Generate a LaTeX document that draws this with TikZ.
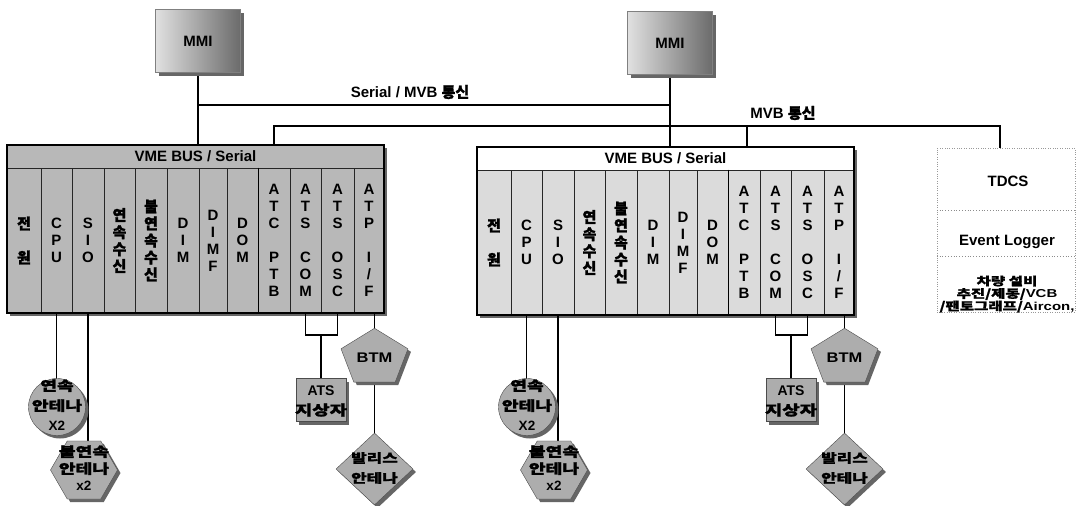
\documentclass[tikz,border=0pt]{standalone}
\usepackage{fontspec}
\setmainfont{Liberation Sans}
\newfontfamily\krfont{Noto Sans CJK KR}[FakeBold=1.5]
\newfontfamily\krwide{Noto Sans CJK KR}[FakeStretch=1.35,FakeBold=1.5]
\newfontfamily\latw{Liberation Sans}[FakeStretch=1.3]
\newcommand{\KR}[1]{{\krfont #1}}
\newcommand{\KW}[1]{{\krwide #1}}
\newcommand{\fsz}[2]{\fontsize{#1}{#2}\selectfont}
\usetikzlibrary{shapes.geometric,shadows}
\tikzset{
  conn/.style={line width=1.8pt, draw=black},
  shd/.style={drop shadow={shadow xshift=3pt, shadow yshift=-3pt, fill=black!60, opacity=1}},
  mmibox/.style={shd, draw=black!50, left color=black!12, right color=black!58, minimum width=85pt, minimum height=63pt, inner sep=0pt, font=\bfseries\fsz{15}{17}},
  rackfill/.style={shd, draw=black, line width=2pt, inner sep=0pt, minimum width=377pt, minimum height=168pt},
  rackframe/.style={draw=black, line width=2pt, inner sep=0pt, minimum width=377pt, minimum height=168pt},
  headbox/.style={inner sep=0pt, minimum width=375pt, minimum height=23pt, font=\bfseries\fsz{15}{17}},
  module/.style={draw=black!85, line width=0.8pt, inner sep=0pt, minimum height=145pt, align=center, font=\bfseries\fsz{15}{17}},
  gshape/.style={shd, draw=black!70, fill=black!32, inner sep=0pt},
  lbl/.style={align=center, inner sep=0pt, font=\bfseries\fsz{13.5}{19}},
  lab/.style={inner sep=0pt, font=\bfseries\fsz{15}{17}},
  tdcsbox/.style={draw=black!40, dotted, fill=white, minimum width=138pt, minimum height=164pt, inner sep=0pt},
  divl/.style={draw=black!45, dotted, line width=0.8pt},
}
\newcommand{\modnode}[6]{\node[module, fill=#6, minimum width={#4-#3}] (#1-m#2) at ({(#3+#4)/2},240.5) {#5};}
\newcommand{\rackunit}[5]{%
\begin{scope}[shift={(#2,#3)}]
  \node[rackfill, fill=#4] (#1-rack) at (195.5,229) {};
  \node[headbox, fill=#5] (#1-head) at (195.5,156.5) {VME BUS / Serial};
  \modnode{#1}{1}{7}{41}{\KR{전}\\~\\\KR{원}}{#4}
  \modnode{#1}{2}{41}{72}{C\\P\\U}{#4}
  \modnode{#1}{3}{72}{104}{S\\I\\O}{#4}
  \modnode{#1}{4}{104}{135}{\KR{연}\\\KR{속}\\\KR{수}\\\KR{신}}{#4}
  \modnode{#1}{5}{135}{167}{\KR{불}\\\KR{연}\\\KR{속}\\\KR{수}\\\KR{신}}{#4}
  \modnode{#1}{6}{167}{199}{D\\I\\M}{#4}
  \modnode{#1}{7}{199}{227}{D\\I\\M\\F}{#4}
  \modnode{#1}{8}{227}{258}{D\\O\\M}{#4}
  \modnode{#1}{9}{258}{290}{A\\T\\C\\~\\P\\T\\B}{#4}
  \modnode{#1}{10}{290}{321}{A\\T\\S\\~\\C\\O\\M}{#4}
  \modnode{#1}{11}{321}{354}{A\\T\\S\\~\\O\\S\\C}{#4}
  \modnode{#1}{12}{354}{384}{A\\T\\P\\~\\I\\/\\F}{#4}
  \node[rackframe] (#1-frame) at (195.5,229) {};
  \draw[line width=1.8pt, draw=black] (#1-m8.north east) -- (#1-m8.south east);
\end{scope}}
\newcommand{\bottomunit}[2]{%
\begin{scope}[xshift=#2]
  \coordinate (#1-br) at (321,335);
  \draw[conn] (#1-m2.south) -- ++(0,66);
  \draw[conn] (#1-m3.south) -- ++(0,129);
  \draw[conn] (#1-m10.south) -- (#1-m10.south |- #1-br) -- (#1-m11.south |- #1-br) -- (#1-m11.south);
  \draw[conn] (#1-br) -- ++(0,44);
  \draw[conn] (374.5,314) -- (374.5,440);
  \node[gshape, circle, minimum size=57pt] (#1-ant1) at (57,407) {};
  \node[lbl, font=\bfseries\fsz{13.5}{20}] (#1-ant1t) at (57,405) {\KW{연속}\\\KW{안테나}\\X2};
  \node[gshape, regular polygon, regular polygon sides=6, minimum size=67pt] (#1-ant2) at (84,470) {};
  \node[lbl, font=\bfseries\fsz{13.5}{17}] (#1-ant2t) at (84,468) {\KW{불연속}\\\KW{안테나}\\x2};
  \node[gshape, minimum width=50pt, minimum height=43pt] (#1-ats) at (321,400) {};
  \node[lbl, font=\bfseries\fsz{14}{20}] (#1-atst) at (321,401) {ATS\\\KW{지상자}};
  \node[gshape, regular polygon, regular polygon sides=5, minimum size=64pt, xscale=1.1, yscale=0.93, font=\bfseries\fsz{15}{17}] (#1-btm) at (374.5,358) {BTM};
  \node[gshape, diamond, minimum width=77pt, minimum height=72pt] (#1-bal) at (374.5,469) {};
  \node[lbl, font=\bfseries\fsz{12.5}{20}] (#1-balt) at (374.5,468) {\KW{발리스}\\\KW{안테나}};
\end{scope}}
\begin{document}
\begin{tikzpicture}[x=1pt, y=-1pt]
\fill[white] (0,0) rectangle (1077,506);
\useasboundingbox (0,0) rectangle (1077,506);
% top lines
\coordinate (s1) at (198,105);
\coordinate (s2) at (670,105);
\coordinate (v1) at (274,126);
\coordinate (v2) at (747,126);
\coordinate (v3) at (1000,126);
\coordinate (d1) at (0,210);
\coordinate (d2) at (0,256);
\draw[conn] (198,60) -- (198,146);
\draw[conn] (670,60) -- (670,149);
\draw[conn] (s1) -- (s2);
\draw[conn] (274,146) -- (v1) -- (v3) -- (1000,148);
\draw[conn] (v2) -- (747,149);
% MMI
\node[mmibox] (mmi1) at (198,41) {MMI};
\node[mmibox] (mmi2) at (670,43) {MMI};
% racks
\rackunit{L}{0}{0}{black!28}{black!28}
\rackunit{R}{470}{2}{black!14}{white}
\bottomunit{L}{0}
\bottomunit{R}{470}
% TDCS
\node[tdcsbox] (tdcs) at (1006,230) {};
\draw[divl] (tdcs.west |- d1) -- (tdcs.east |- d1);
\draw[divl] (tdcs.west |- d2) -- (tdcs.east |- d2);
\node[lab, font=\bfseries\fsz{15}{17}] (tdcs1) at (1008,181) {TDCS};
\node[lab, font=\bfseries\fsz{15}{17}] (tdcs2) at (1007,242) {Event Logger};
\node[lab, align=center, font=\bfseries\fsz{11.5}{12.5}] (tdcs3) at (1007,294) {\KW{차량 설비}\\\KW{추진/제동/}{\latw VCB}\\\KW{/팬토그래프/}{\latw Aircon,}};
% labels
\node[lab] (serlab) at (410,92) {Serial / MVB \KR{통신}};
\node[lab] (mvblab) at (783,113) {MVB \KR{통신}};
\end{tikzpicture}
\end{document}
